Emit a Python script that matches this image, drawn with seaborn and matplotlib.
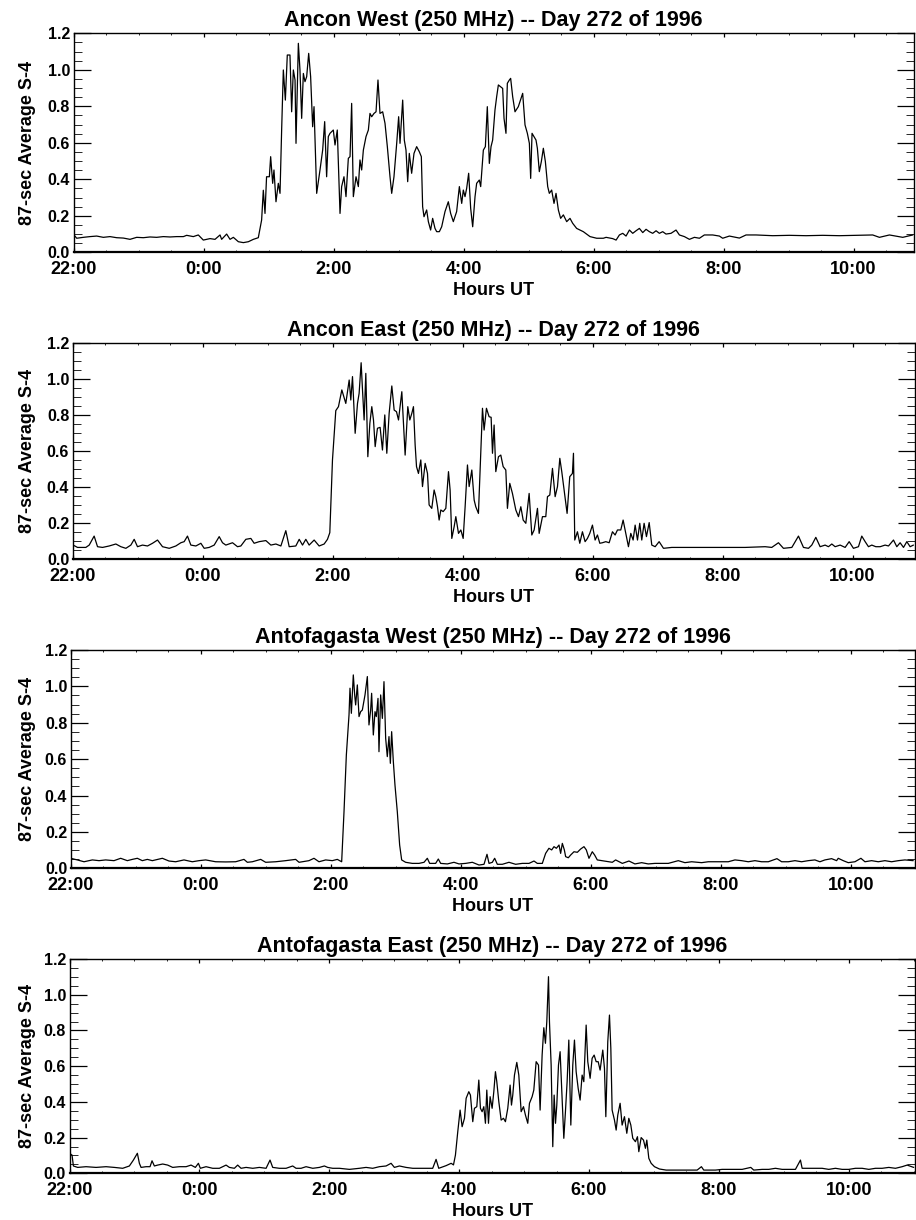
import matplotlib
matplotlib.use("Agg")
import matplotlib.pyplot as plt
from matplotlib.ticker import MultipleLocator, FixedLocator
import seaborn as sns
import pandas as pd

# ---------------- data (hours UT relative to 0:00 of day 272; 22:00 = -2) ----------------
ANCON_WEST = [
    (-1.992, 0.095), (-1.951, 0.077), (-1.849, 0.082), (-1.746, 0.086), (-1.644, 0.089),
    (-1.541, 0.082), (-1.439, 0.086), (-1.336, 0.080), (-1.233, 0.078), (-1.131, 0.071),
    (-1.028, 0.082), (-0.926, 0.080), (-0.823, 0.084), (-0.721, 0.082), (-0.618, 0.086),
    (-0.515, 0.084), (-0.413, 0.086), (-0.310, 0.086), (-0.259, 0.093), (-0.157, 0.086),
    (-0.080, 0.095), (-0.003, 0.067), (0.100, 0.075), (0.177, 0.071), (0.254, 0.095),
    (0.279, 0.071), (0.356, 0.100), (0.408, 0.071), (0.459, 0.082), (0.536, 0.058),
    (0.613, 0.053), (0.690, 0.058), (0.767, 0.071), (0.843, 0.080), (0.894, 0.177),
    (0.920, 0.340), (0.946, 0.213), (0.970, 0.414), (1.013, 0.414), (1.033, 0.524),
    (1.064, 0.378), (1.084, 0.451), (1.115, 0.277), (1.151, 0.378), (1.177, 0.323),
    (1.202, 0.670), (1.228, 0.999), (1.259, 0.834), (1.289, 1.081), (1.330, 1.081),
    (1.356, 0.770), (1.382, 0.999), (1.408, 0.944), (1.423, 0.597), (1.459, 1.145),
    (1.484, 0.999), (1.510, 0.734), (1.536, 0.980), (1.561, 0.935), (1.587, 0.962),
    (1.618, 1.090), (1.648, 0.962), (1.679, 0.688), (1.700, 0.798), (1.741, 0.323),
    (1.792, 0.451), (1.833, 0.560), (1.864, 0.716), (1.894, 0.414), (1.920, 0.634),
    (1.946, 0.652), (1.997, 0.670), (2.023, 0.588), (2.058, 0.670), (2.100, 0.213),
    (2.125, 0.360), (2.161, 0.414), (2.192, 0.305), (2.228, 0.515), (2.254, 0.524),
    (2.279, 0.816), (2.305, 0.305), (2.346, 0.414), (2.382, 0.360), (2.407, 0.506),
    (2.433, 0.451), (2.459, 0.560), (2.500, 0.634), (2.536, 0.670), (2.561, 0.761),
    (2.587, 0.743), (2.623, 0.761), (2.654, 0.770), (2.684, 0.944), (2.715, 0.761),
    (2.756, 0.770), (2.792, 0.707), (2.828, 0.579), (2.869, 0.414), (2.895, 0.323),
    (2.930, 0.414), (2.972, 0.597), (3.002, 0.743), (3.023, 0.597), (3.064, 0.834),
    (3.089, 0.615), (3.115, 0.560), (3.141, 0.387), (3.166, 0.542), (3.202, 0.433),
    (3.238, 0.542), (3.279, 0.579), (3.320, 0.551), (3.351, 0.524), (3.371, 0.250),
    (3.392, 0.195), (3.433, 0.232), (3.459, 0.168), (3.494, 0.122), (3.525, 0.186),
    (3.561, 0.131), (3.587, 0.113), (3.628, 0.113), (3.664, 0.140), (3.715, 0.223),
    (3.766, 0.277), (3.802, 0.213), (3.843, 0.168), (3.894, 0.223), (3.936, 0.360),
    (3.972, 0.268), (3.997, 0.341), (4.023, 0.305), (4.048, 0.350), (4.079, 0.433),
    (4.110, 0.241), (4.141, 0.140), (4.177, 0.305), (4.202, 0.378), (4.243, 0.396),
    (4.264, 0.360), (4.305, 0.560), (4.336, 0.579), (4.366, 0.798), (4.397, 0.487),
    (4.423, 0.579), (4.448, 0.615), (4.484, 0.780), (4.510, 0.853), (4.536, 0.917),
    (4.571, 0.907), (4.602, 0.898), (4.623, 0.734), (4.653, 0.652), (4.674, 0.926),
    (4.705, 0.944), (4.725, 0.953), (4.756, 0.853), (4.792, 0.770), (4.843, 0.798),
    (4.910, 0.871), (4.946, 0.698), (4.982, 0.652), (5.013, 0.597), (5.033, 0.405),
    (5.054, 0.652), (5.084, 0.634), (5.115, 0.615), (5.136, 0.570), (5.166, 0.442),
    (5.197, 0.497), (5.228, 0.570), (5.259, 0.497), (5.295, 0.360), (5.320, 0.323),
    (5.356, 0.341), (5.392, 0.268), (5.423, 0.323), (5.459, 0.232), (5.494, 0.186),
    (5.536, 0.205), (5.587, 0.168), (5.638, 0.186), (5.679, 0.159), (5.740, 0.131),
    (5.843, 0.113), (5.946, 0.086), (6.048, 0.077), (6.151, 0.077), (6.193, 0.082),
    (6.295, 0.075), (6.347, 0.067), (6.398, 0.095), (6.449, 0.104), (6.500, 0.089),
    (6.552, 0.122), (6.603, 0.104), (6.654, 0.118), (6.705, 0.131), (6.757, 0.108),
    (6.808, 0.126), (6.859, 0.113), (6.910, 0.104), (6.962, 0.118), (7.013, 0.104),
    (7.064, 0.113), (7.115, 0.100), (7.192, 0.104), (7.269, 0.122), (7.321, 0.095),
    (7.398, 0.086), (7.475, 0.071), (7.552, 0.082), (7.629, 0.077), (7.705, 0.095),
    (7.833, 0.095), (7.936, 0.089), (7.987, 0.077), (8.090, 0.089), (8.244, 0.078),
    (8.346, 0.095), (8.500, 0.095), (8.757, 0.091), (9.013, 0.093), (9.269, 0.091),
    (9.526, 0.093), (9.782, 0.091), (10.039, 0.093), (10.295, 0.095), (10.398, 0.082),
    (10.552, 0.095), (10.757, 0.082), (10.911, 0.095),
]

ANCON_EAST = [
    (-1.993, 0.079), (-1.926, 0.066), (-1.798, 0.066), (-1.746, 0.079), (-1.670, 0.129),
    (-1.618, 0.070), (-1.541, 0.066), (-1.439, 0.074), (-1.336, 0.085), (-1.259, 0.070),
    (-1.182, 0.061), (-1.105, 0.079), (-1.054, 0.111), (-1.003, 0.070), (-0.926, 0.079),
    (-0.849, 0.074), (-0.772, 0.089), (-0.695, 0.107), (-0.618, 0.070), (-0.515, 0.061),
    (-0.413, 0.074), (-0.336, 0.092), (-0.285, 0.098), (-0.234, 0.129), (-0.182, 0.079),
    (-0.105, 0.074), (-0.028, 0.089), (0.023, 0.061), (0.100, 0.066), (0.177, 0.079),
    (0.254, 0.126), (0.305, 0.092), (0.356, 0.079), (0.459, 0.092), (0.536, 0.070),
    (0.587, 0.074), (0.664, 0.111), (0.741, 0.116), (0.792, 0.089), (0.869, 0.098),
    (0.972, 0.104), (1.049, 0.079), (1.126, 0.085), (1.203, 0.074), (1.279, 0.159),
    (1.331, 0.070), (1.433, 0.074), (1.485, 0.111), (1.536, 0.079), (1.587, 0.111),
    (1.638, 0.079), (1.715, 0.107), (1.792, 0.074), (1.869, 0.085), (1.920, 0.111),
    (1.956, 0.148), (1.997, 0.552), (2.048, 0.826), (2.089, 0.848), (2.141, 0.941),
    (2.202, 0.866), (2.254, 0.996), (2.279, 0.885), (2.305, 1.015), (2.346, 0.700),
    (2.382, 0.866), (2.407, 0.922), (2.438, 1.092), (2.459, 0.941), (2.484, 0.774),
    (2.510, 1.033), (2.541, 0.570), (2.572, 0.755), (2.602, 0.848), (2.628, 0.774),
    (2.654, 0.626), (2.689, 0.728), (2.730, 0.733), (2.766, 0.607), (2.802, 0.802),
    (2.833, 0.589), (2.869, 0.811), (2.910, 0.963), (2.946, 0.829), (2.982, 0.820),
    (3.013, 0.774), (3.064, 0.931), (3.115, 0.579), (3.156, 0.848), (3.187, 0.774),
    (3.218, 0.811), (3.243, 0.848), (3.269, 0.635), (3.290, 0.515), (3.320, 0.477),
    (3.356, 0.552), (3.382, 0.404), (3.423, 0.533), (3.459, 0.477), (3.484, 0.302),
    (3.525, 0.283), (3.561, 0.385), (3.587, 0.348), (3.613, 0.292), (3.638, 0.218),
    (3.664, 0.274), (3.700, 0.265), (3.741, 0.283), (3.782, 0.487), (3.807, 0.385),
    (3.833, 0.116), (3.869, 0.181), (3.895, 0.237), (3.936, 0.144), (3.972, 0.163),
    (4.008, 0.116), (4.038, 0.292), (4.074, 0.524), (4.100, 0.404), (4.141, 0.496),
    (4.177, 0.329), (4.202, 0.292), (4.243, 0.255), (4.279, 0.589), (4.305, 0.839),
    (4.330, 0.718), (4.366, 0.839), (4.407, 0.792), (4.438, 0.789), (4.459, 0.589),
    (4.484, 0.746), (4.510, 0.487), (4.551, 0.570), (4.587, 0.579), (4.623, 0.515),
    (4.664, 0.496), (4.689, 0.283), (4.725, 0.422), (4.766, 0.366), (4.818, 0.274),
    (4.859, 0.237), (4.895, 0.292), (4.931, 0.218), (4.972, 0.200), (5.023, 0.366),
    (5.064, 0.135), (5.100, 0.163), (5.151, 0.283), (5.177, 0.144), (5.228, 0.237),
    (5.279, 0.237), (5.305, 0.348), (5.341, 0.357), (5.382, 0.505), (5.423, 0.348),
    (5.459, 0.404), (5.495, 0.561), (5.525, 0.487), (5.561, 0.385), (5.607, 0.255),
    (5.648, 0.459), (5.689, 0.477), (5.705, 0.589), (5.725, 0.107), (5.766, 0.153),
    (5.802, 0.089), (5.843, 0.153), (5.884, 0.098), (5.920, 0.116), (5.956, 0.144),
    (5.997, 0.190), (6.038, 0.107), (6.074, 0.135), (6.110, 0.089), (6.151, 0.092),
    (6.202, 0.098), (6.254, 0.092), (6.305, 0.153), (6.346, 0.135), (6.382, 0.163),
    (6.433, 0.163), (6.469, 0.218), (6.510, 0.144), (6.551, 0.070), (6.587, 0.144),
    (6.623, 0.107), (6.654, 0.190), (6.690, 0.107), (6.725, 0.200), (6.756, 0.107),
    (6.792, 0.200), (6.828, 0.126), (6.870, 0.204), (6.910, 0.079), (6.962, 0.070),
    (7.023, 0.098), (7.090, 0.061), (7.218, 0.066), (7.577, 0.066), (7.987, 0.066),
    (8.346, 0.066), (8.654, 0.070), (8.756, 0.066), (8.859, 0.092), (8.936, 0.061),
    (9.065, 0.066), (9.167, 0.129), (9.244, 0.066), (9.321, 0.061), (9.372, 0.079),
    (9.434, 0.122), (9.500, 0.070), (9.577, 0.079), (9.628, 0.070), (9.680, 0.085),
    (9.731, 0.070), (9.808, 0.079), (9.885, 0.066), (9.947, 0.098), (10.013, 0.061),
    (10.090, 0.070), (10.141, 0.129), (10.193, 0.098), (10.244, 0.070), (10.295, 0.079),
    (10.357, 0.070), (10.424, 0.070), (10.500, 0.079), (10.552, 0.074), (10.629, 0.107),
    (10.680, 0.070), (10.731, 0.092), (10.783, 0.066), (10.834, 0.098), (10.885, 0.070),
    (10.936, 0.079),
]

ANTOFAGASTA_WEST = [
    (-2.000, 0.055), (-1.898, 0.046), (-1.795, 0.036), (-1.667, 0.046), (-1.564, 0.042),
    (-1.462, 0.046), (-1.334, 0.042), (-1.231, 0.055), (-1.129, 0.042), (-1.052, 0.049),
    (-0.975, 0.055), (-0.898, 0.042), (-0.821, 0.049), (-0.744, 0.042), (-0.590, 0.055),
    (-0.488, 0.040), (-0.385, 0.036), (-0.257, 0.046), (-0.129, 0.036), (-0.026, 0.042),
    (0.077, 0.046), (0.230, 0.036), (0.384, 0.035), (0.538, 0.036), (0.666, 0.049),
    (0.718, 0.033), (0.795, 0.036), (0.923, 0.049), (1.000, 0.033), (1.154, 0.036),
    (1.307, 0.042), (1.461, 0.049), (1.513, 0.033), (1.666, 0.042), (1.743, 0.055),
    (1.820, 0.036), (1.923, 0.046), (2.025, 0.042), (2.102, 0.049), (2.169, 0.036),
    (2.205, 0.311), (2.241, 0.623), (2.282, 0.843), (2.297, 0.990), (2.318, 0.852),
    (2.333, 0.953), (2.348, 1.063), (2.369, 0.953), (2.384, 0.898), (2.410, 1.008),
    (2.436, 0.834), (2.461, 0.861), (2.487, 0.870), (2.528, 0.953), (2.564, 1.054),
    (2.589, 0.788), (2.615, 0.870), (2.630, 0.962), (2.656, 0.733), (2.682, 0.861),
    (2.702, 0.834), (2.728, 0.934), (2.743, 0.641), (2.769, 0.953), (2.795, 0.824),
    (2.820, 1.026), (2.846, 0.714), (2.871, 0.614), (2.897, 0.724), (2.918, 0.577),
    (2.938, 0.751), (2.964, 0.586), (2.989, 0.458), (3.025, 0.311), (3.061, 0.128),
    (3.092, 0.046), (3.153, 0.033), (3.256, 0.027), (3.358, 0.027), (3.436, 0.033),
    (3.487, 0.055), (3.523, 0.027), (3.615, 0.027), (3.656, 0.051), (3.692, 0.027),
    (3.795, 0.024), (3.897, 0.033), (3.974, 0.024), (4.077, 0.027), (4.179, 0.033),
    (4.282, 0.018), (4.359, 0.022), (4.405, 0.077), (4.436, 0.027), (4.487, 0.033),
    (4.523, 0.055), (4.564, 0.022), (4.641, 0.022), (4.743, 0.033), (4.846, 0.022),
    (4.948, 0.027), (5.051, 0.027), (5.128, 0.040), (5.179, 0.027), (5.256, 0.027),
    (5.307, 0.082), (5.358, 0.110), (5.400, 0.101), (5.436, 0.119), (5.472, 0.110),
    (5.513, 0.128), (5.538, 0.082), (5.564, 0.137), (5.595, 0.101), (5.615, 0.064),
    (5.656, 0.058), (5.692, 0.073), (5.743, 0.091), (5.795, 0.088), (5.846, 0.106),
    (5.897, 0.119), (5.933, 0.101), (5.974, 0.055), (6.025, 0.091), (6.061, 0.073),
    (6.102, 0.046), (6.205, 0.040), (6.333, 0.033), (6.384, 0.046), (6.487, 0.027),
    (6.589, 0.040), (6.681, 0.024), (6.784, 0.031), (6.886, 0.024), (6.989, 0.027),
    (7.092, 0.027), (7.194, 0.027), (7.348, 0.042), (7.450, 0.031), (7.553, 0.036),
    (7.707, 0.031), (7.810, 0.036), (7.963, 0.036), (8.117, 0.036), (8.220, 0.046),
    (8.322, 0.042), (8.425, 0.036), (8.527, 0.042), (8.630, 0.036), (8.733, 0.036),
    (8.866, 0.053), (8.938, 0.036), (9.040, 0.036), (9.143, 0.042), (9.245, 0.036),
    (9.348, 0.042), (9.450, 0.046), (9.527, 0.036), (9.604, 0.046), (9.707, 0.053),
    (9.784, 0.042), (9.809, 0.055), (9.886, 0.042), (9.963, 0.031), (10.066, 0.036),
    (10.158, 0.055), (10.220, 0.036), (10.322, 0.042), (10.425, 0.036), (10.527, 0.042),
    (10.630, 0.036), (10.733, 0.042), (10.835, 0.046), (10.963, 0.042),
]

ANTOFAGASTA_EAST = [
    (-2.000, 0.112), (-1.961, 0.102), (-1.940, 0.041), (-1.874, 0.033), (-1.745, 0.037),
    (-1.591, 0.033), (-1.437, 0.037), (-1.309, 0.033), (-1.181, 0.028), (-1.078, 0.041),
    (-1.016, 0.074), (-0.955, 0.112), (-0.924, 0.056), (-0.898, 0.033), (-0.821, 0.037),
    (-0.760, 0.037), (-0.729, 0.070), (-0.693, 0.041), (-0.642, 0.046), (-0.565, 0.052),
    (-0.488, 0.046), (-0.411, 0.033), (-0.308, 0.037), (-0.205, 0.037), (-0.128, 0.046),
    (-0.062, 0.033), (-0.015, 0.056), (0.015, 0.028), (0.103, 0.037), (0.205, 0.028),
    (0.308, 0.028), (0.411, 0.046), (0.462, 0.033), (0.539, 0.028), (0.590, 0.046),
    (0.642, 0.028), (0.719, 0.033), (0.822, 0.028), (0.924, 0.033), (1.027, 0.028),
    (1.088, 0.074), (1.129, 0.033), (1.232, 0.028), (1.335, 0.028), (1.437, 0.041),
    (1.489, 0.028), (1.566, 0.028), (1.643, 0.037), (1.746, 0.028), (1.848, 0.033),
    (1.925, 0.041), (1.976, 0.033), (2.053, 0.028), (2.156, 0.028), (2.310, 0.022),
    (2.464, 0.028), (2.567, 0.033), (2.669, 0.028), (2.772, 0.037), (2.875, 0.041),
    (2.952, 0.056), (3.003, 0.033), (3.080, 0.041), (3.183, 0.033), (3.286, 0.028),
    (3.388, 0.028), (3.517, 0.028), (3.593, 0.028), (3.645, 0.078), (3.686, 0.028),
    (3.800, 0.043), (3.877, 0.056), (3.913, 0.047), (3.943, 0.102), (3.979, 0.233),
    (4.015, 0.354), (4.046, 0.261), (4.082, 0.308), (4.108, 0.420), (4.149, 0.457),
    (4.174, 0.438), (4.210, 0.289), (4.236, 0.364), (4.272, 0.373), (4.303, 0.522),
    (4.328, 0.364), (4.354, 0.345), (4.380, 0.373), (4.405, 0.280), (4.426, 0.466),
    (4.452, 0.280), (4.477, 0.429), (4.508, 0.364), (4.534, 0.457), (4.559, 0.569),
    (4.580, 0.513), (4.611, 0.401), (4.647, 0.298), (4.683, 0.308), (4.713, 0.289),
    (4.749, 0.364), (4.785, 0.494), (4.806, 0.382), (4.826, 0.438), (4.852, 0.550),
    (4.888, 0.621), (4.919, 0.550), (4.955, 0.345), (4.991, 0.373), (5.021, 0.326),
    (5.057, 0.280), (5.083, 0.392), (5.124, 0.429), (5.150, 0.466), (5.186, 0.625),
    (5.222, 0.606), (5.247, 0.354), (5.278, 0.662), (5.304, 0.815), (5.329, 0.728),
    (5.350, 0.849), (5.376, 1.101), (5.391, 0.849), (5.417, 0.606), (5.442, 0.149),
    (5.463, 0.438), (5.484, 0.280), (5.504, 0.382), (5.530, 0.606), (5.555, 0.681),
    (5.581, 0.457), (5.612, 0.196), (5.637, 0.345), (5.663, 0.513), (5.689, 0.746),
    (5.720, 0.270), (5.750, 0.606), (5.776, 0.746), (5.802, 0.569), (5.833, 0.476),
    (5.863, 0.410), (5.894, 0.550), (5.920, 0.513), (5.956, 0.830), (5.981, 0.625),
    (6.017, 0.532), (6.048, 0.644), (6.079, 0.662), (6.110, 0.625), (6.141, 0.625),
    (6.171, 0.578), (6.212, 0.690), (6.238, 0.588), (6.259, 0.317), (6.289, 0.737),
    (6.315, 0.886), (6.336, 0.700), (6.356, 0.354), (6.392, 0.298), (6.418, 0.242),
    (6.443, 0.326), (6.479, 0.392), (6.510, 0.270), (6.546, 0.317), (6.582, 0.224),
    (6.613, 0.308), (6.644, 0.270), (6.674, 0.196), (6.715, 0.177), (6.746, 0.205),
    (6.767, 0.121), (6.803, 0.200), (6.839, 0.186), (6.869, 0.140), (6.890, 0.186),
    (6.921, 0.084), (6.957, 0.056), (7.008, 0.037), (7.085, 0.024), (7.188, 0.018),
    (7.536, 0.018), (7.665, 0.018), (7.731, 0.037), (7.767, 0.018), (7.947, 0.018),
    (8.050, 0.022), (8.204, 0.022), (8.358, 0.022), (8.491, 0.033), (8.537, 0.018),
    (8.666, 0.022), (8.768, 0.022), (8.871, 0.028), (8.974, 0.022), (9.076, 0.022),
    (9.179, 0.022), (9.256, 0.074), (9.282, 0.028), (9.385, 0.028), (9.487, 0.028),
    (9.590, 0.028), (9.692, 0.022), (9.795, 0.028), (9.898, 0.022), (10.000, 0.022),
    (10.103, 0.028), (10.206, 0.028), (10.309, 0.022), (10.411, 0.028), (10.514, 0.028),
    (10.617, 0.033), (10.719, 0.028), (10.822, 0.037), (10.899, 0.046), (11.000, 0.033),
]

STATIONS = ["Ancon West", "Ancon East", "Antofagasta West", "Antofagasta East"]
SERIES = [ANCON_WEST, ANCON_EAST, ANTOFAGASTA_WEST, ANTOFAGASTA_EAST]
X_TICKS = [-2, 0, 2, 4, 6, 8, 10]
X_TICK_LABELS = ["22:00", "0:00", "2:00", "4:00", "6:00", "8:00", "10:00"]
Y_TICKS = [0.0, 0.2, 0.4, 0.6, 0.8, 1.0, 1.2]
Y_TICK_LABELS = ["0.0", "0.2", "0.4", "0.6", "0.8", "1.0", "1.2"]

# ---------------- style ----------------
sns.set_theme(style="ticks")
plt.rcParams["font.family"] = ["Liberation Sans", "DejaVu Sans"]
plt.rcParams["font.weight"] = "bold"

W, H = 916, 1220
fig = plt.figure(figsize=(W / 100, H / 100), dpi=100)
fig.patch.set_facecolor("white")

# axes boxes in pixels: (left, top, right, bottom)
BOXES = [(73.5, 33.3, 914.0, 252.3),
         (72.7, 343.3, 915.0, 559.3),
         (70.7, 650.0, 915.0, 868.3),
         (69.5, 959.0, 915.0, 1173.3)]
XMAX = [10.93, 10.96, 10.99, 11.02]

for i, (name, data) in enumerate(zip(STATIONS, SERIES)):
    l, t, r, b = BOXES[i]
    ax = fig.add_axes([l / W, 1 - b / H, (r - l) / W, (b - t) / H])
    ax.set_facecolor("white")
    df = pd.DataFrame(data, columns=["hours", "s4"])
    sns.lineplot(data=df, x="hours", y="s4", ax=ax, color="black",
                 linewidth=0.9, estimator=None, sort=False)
    ax.set_xlim(-2, XMAX[i])
    ax.set_ylim(0, 1.2)

    ax.xaxis.set_major_locator(FixedLocator(X_TICKS))
    ax.set_xticklabels(X_TICK_LABELS)
    ax.xaxis.set_minor_locator(MultipleLocator(0.5))
    ax.yaxis.set_major_locator(FixedLocator(Y_TICKS))
    ax.set_yticklabels(Y_TICK_LABELS)
    ax.yaxis.set_minor_locator(MultipleLocator(0.05))

    ax.tick_params(axis="x", which="major", direction="in", length=3.2, width=0.9,
                   top=True, bottom=True, labelsize=13, pad=6.5, colors="black")
    ax.tick_params(axis="x", which="minor", direction="in", length=1.6, width=0.7,
                   top=True, bottom=True)
    ax.tick_params(axis="y", which="major", direction="in", length=12.2, width=0.9,
                   left=True, right=True, labelsize=11.5, pad=2.5, colors="black")
    ax.tick_params(axis="y", which="minor", direction="in", length=6.1, width=0.7,
                   left=True, right=True)
    for lab in ax.get_xticklabels() + ax.get_yticklabels():
        lab.set_fontweight("bold")

    for side, sp in ax.spines.items():
        sp.set_visible(True)
        sp.set_color("black")
        sp.set_linewidth(1.0)
    ax.spines["bottom"].set_linewidth(1.6)

    ax.set_title(f"{name} (250 MHz) -- Day 272 of 1996", fontsize=15.5,
                 fontweight="bold", pad=5, color="black")
    ax.set_xlabel("Hours UT", fontsize=13, fontweight="bold", labelpad=2.5, color="black")
    ax.set_ylabel("87-sec Average S-4", fontsize=13, fontweight="bold", color="black")
    yc = 1 - ((t + b) / 2) / H
    ax.yaxis.set_label_coords(35.5 / W, yc, transform=fig.transFigure)

fig.savefig("out.png", dpi=100, facecolor="white")
